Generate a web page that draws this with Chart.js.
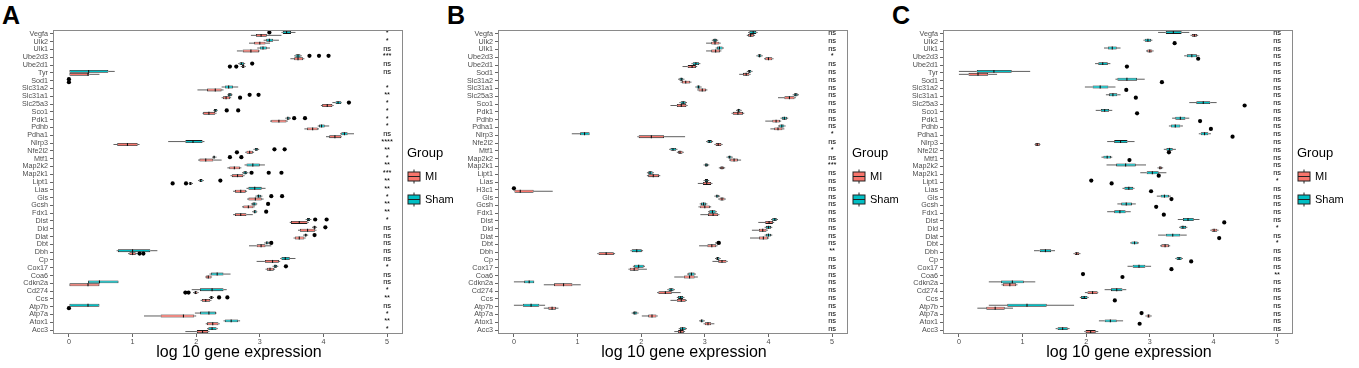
<!DOCTYPE html>
<html><head><meta charset="utf-8">
<script src="https://cdn.jsdelivr.net/npm/chart.js@4/dist/chart.umd.min.js"></script>
<style>
body{margin:0;background:#fff;width:1359px;height:368px;position:relative;overflow:hidden;font-family:"Liberation Sans",Arial,sans-serif}
canvas{position:absolute;top:0}
.lab{position:absolute;top:3px;font-weight:bold;font-size:25px;line-height:25px;color:#000}
</style></head><body>
<div class="lab" style="left:2px">A</div>
<div class="lab" style="left:447px">B</div>
<div class="lab" style="left:892px">C</div>
<canvas id="cA" width="460" height="368" style="left:0px"></canvas>
<canvas id="cB" width="460" height="368" style="left:445px"></canvas>
<canvas id="cC" width="460" height="368" style="left:890px"></canvas>
<script>
// ---------- Panel A ----------
const genesA = ['Vegfa','Ulk2','Ulk1','Ube2d3','Ube2d1','Tyr','Sod1','Slc31a2','Slc31a1','Slc25a3','Sco1','Pdk1','Pdhb','Pdha1','Nlrp3','Nfe2l2','Mtf1','Map2k2','Map2k1','Lipt1','Lias','Gls','Gcsh','Fdx1','Dlst','Dld','Dlat','Dbt','Dbh','Cp','Cox17','Coa6','Cdkn2a','Cd274','Ccs','Atp7b','Atp7a','Atox1','Acc3'];
// [lower whisker, q1, median, q3, upper whisker]
const shamA = [[3.34,3.36,3.42,3.49,3.56],[3.06,3.10,3.15,3.21,3.30],[2.96,3.00,3.05,3.11,3.16],[3.54,3.56,3.60,3.64,3.66],[2.66,2.68,2.71,2.75,2.77],[0,0,0.31,0.62,0.72],[0,0,0,0.02,0.02],[2.40,2.45,2.51,2.58,2.66],[2.49,2.50,2.53,2.56,2.57],[4.14,4.19,4.23,4.28,4.29],[2.27,2.28,2.30,2.33,2.34],[3.40,3.42,3.44,3.47,3.49],[3.91,3.93,3.97,4.02,4.09],[4.26,4.28,4.33,4.38,4.48],[1.56,1.83,1.95,2.10,2.13],[2.90,2.92,2.94,2.97,2.99],[2.25,2.27,2.28,2.30,2.32],[2.76,2.79,2.89,3.00,3.08],[2.72,2.74,2.77,2.80,2.82],[2.03,2.05,2.07,2.10,2.12],[2.79,2.82,2.92,3.03,3.09],[2.93,2.95,2.98,3.02,3.04],[2.86,2.88,2.91,2.95,2.96],[2.88,2.90,2.92,2.95,2.96],[3.72,3.74,3.76,3.79,3.81],[3.82,3.84,3.86,3.88,3.90],[3.68,3.70,3.72,3.74,3.76],[3.07,3.09,3.11,3.14,3.16],[0.75,0.77,1.00,1.28,1.39],[3.32,3.34,3.40,3.47,3.56],[3.20,3.22,3.24,3.27,3.29],[2.21,2.23,2.33,2.43,2.54],[0.30,0.30,0.48,0.78,0.78],[1.93,2.06,2.25,2.43,2.48],[2.20,2.22,2.24,2.26,2.28],[0,0,0.30,0.48,0.48],[1.98,2.06,2.20,2.31,2.32],[2.43,2.45,2.55,2.66,2.69],[2.17,2.19,2.25,2.32,2.34]];
const miA = [[2.86,2.94,3.02,3.11,3.34],[2.83,2.91,3.00,3.09,3.16],[2.64,2.73,2.86,2.99,3.00],[3.48,3.54,3.60,3.68,3.70],[2.70,2.72,2.74,2.76,2.78],[0,0,0.30,0.32,0.48],[0,0,0,0.02,0.02],[2.02,2.17,2.30,2.40,2.43],[2.40,2.42,2.47,2.53,2.55],[3.96,3.98,4.06,4.14,4.16],[2.10,2.11,2.20,2.30,2.32],[3.16,3.18,3.30,3.42,3.44],[3.70,3.74,3.83,3.91,3.93],[4.04,4.09,4.18,4.28,4.29],[0.70,0.76,0.92,1.08,1.11],[2.77,2.79,2.84,2.89,2.91],[2.03,2.05,2.15,2.27,2.40],[2.49,2.52,2.60,2.69,2.71],[2.54,2.56,2.65,2.74,2.76],[1.88,1.89,1.91,1.93,1.95],[2.58,2.61,2.70,2.78,2.80],[2.80,2.82,2.93,3.03,3.06],[2.72,2.74,2.82,2.90,2.92],[2.58,2.61,2.70,2.79,2.89],[3.47,3.49,3.62,3.75,3.77],[3.60,3.63,3.75,3.87,3.89],[3.53,3.55,3.62,3.70,3.72],[2.83,2.95,3.02,3.09,3.18],[0.93,0.95,1.00,1.05,1.08],[2.95,3.08,3.20,3.30,3.32],[3.09,3.11,3.16,3.22,3.24],[2.14,2.15,2.19,2.24,2.25],[0,0,0.30,0.48,0.48],[1.95,1.97,1.99,2.02,2.04],[2.07,2.09,2.15,2.22,2.24],[0,0,0,0.01,0.01],[1.18,1.44,1.80,1.97,2.00],[2.15,2.17,2.26,2.35,2.37],[1.83,2.01,2.10,2.19,2.21]];
const shamOutA = [['Vegfa',3.15],['Ube2d3',3.78],['Ube2d3',3.93],['Ube2d3',4.08],['Ube2d1',2.88],['Sod1',0],['Slc31a1',2.84],['Slc31a1',2.98],['Slc25a3',4.40],['Sco1',2.48],['Sco1',2.66],['Pdk1',3.54],['Pdk1',3.71],['Nfe2l2',3.23],['Nfe2l2',3.39],['Mtf1',2.53],['Mtf1',2.71],['Map2k1',2.87],['Map2k1',3.14],['Map2k1',3.34],['Lipt1',2.38],['Gls',3.18],['Gls',3.35],['Gcsh',3.13],['Fdx1',3.10],['Dlst',3.87],['Dlst',4.05],['Dld',4.03],['Dlat',3.86],['Dbt',3.18],['Cox17',3.41],['Ccs',2.36],['Ccs',2.49]];
const miOutA = [['Ube2d1',2.53],['Ube2d1',2.63],['Sod1',0],['Slc31a1',2.69],['Nfe2l2',2.64],['Lipt1',1.63],['Lipt1',1.84],['Dbh',1.11],['Dbh',1.17],['Cd274',1.83],['Cd274',1.88],['Atp7b',0]];
const sigA = ['*','*','ns','***','ns','ns','','*','**','*','*','*','*','ns','****','**','*','**','***','**','**','*','**','**','*','ns','ns','ns','ns','ns','*','ns','ns','*','**','ns','*','**','*'];

// ---------- Panel B ----------
const genesB = ['Vegfa','Ulk2','Ulk1','Ube2d3','Ube2d1','Sod1','Slc31a2','Slc31a1','Slc25a3','Sco1','Pdk1','Pdhb','Pdha1','Nlrp3','Nfe2l2','Mtf1','Map2k2','Map2k1','Lipt1','Lias','H3c1','Gls','Gcsh','Fdx1','Dlst','Dld','Dlat','Dbt','Dbh','Cp','Cox17','Coa6','Cdkn2a','Cd274','Ccs','Atp7b','Atp7a','Atox1','Acc3'];
const shamB = [[3.68,3.70,3.76,3.81,3.83],[3.11,3.13,3.16,3.19,3.21],[3.17,3.19,3.23,3.28,3.30],[3.81,3.83,3.86,3.89,3.91],[2.79,2.81,2.86,2.91,2.93],[3.66,3.68,3.70,3.73,3.75],[2.58,2.60,2.63,2.66,2.68],[2.85,2.87,2.90,2.93,2.95],[4.38,4.40,4.43,4.46,4.48],[2.60,2.62,2.66,2.70,2.72],[3.49,3.51,3.53,3.56,3.58],[4.19,4.21,4.25,4.29,4.31],[4.15,4.17,4.21,4.25,4.27],[0.91,1.04,1.11,1.19,1.19],[3.02,3.04,3.07,3.11,3.13],[2.44,2.46,2.50,2.55,2.57],[3.34,3.36,3.39,3.42,3.44],[2.98,3.00,3.02,3.05,3.07],[2.09,2.11,2.14,2.18,2.20],[2.98,3.00,3.02,3.05,3.07],[0,0,0,0.02,0.03],[3.15,3.17,3.19,3.22,3.24],[2.92,2.94,2.98,3.02,3.04],[3.05,3.07,3.12,3.17,3.19],[4.04,4.06,4.10,4.13,4.15],[3.94,3.96,4.00,4.04,4.06],[3.94,3.96,4.00,4.04,4.06],[3.16,3.18,3.20,3.22,3.24],[1.83,1.85,1.93,2.01,2.03],[3.16,3.18,3.20,3.23,3.25],[1.87,1.89,1.96,2.04,2.06],[2.72,2.74,2.79,2.84,2.86],[0,0.16,0.24,0.32,0.32],[2.41,2.43,2.47,2.51,2.53],[2.56,2.58,2.62,2.66,2.68],[0,0.14,0.27,0.40,0.49],[1.85,1.87,1.90,1.94,1.96],[2.91,2.93,2.95,2.98,3.00],[2.59,2.61,2.65,2.70,2.72]];
const miB = [[3.66,3.68,3.72,3.77,3.79],[3.02,3.10,3.16,3.23,3.25],[3.02,3.10,3.17,3.24,3.26],[3.93,3.95,4.00,4.06,4.08],[2.65,2.73,2.80,2.86,2.88],[3.54,3.60,3.65,3.70,3.72],[2.62,2.64,2.70,2.77,2.79],[2.88,2.90,2.96,3.02,3.04],[4.15,4.25,4.33,4.41,4.43],[2.46,2.56,2.63,2.71,2.73],[3.42,3.44,3.52,3.60,3.62],[3.95,4.06,4.12,4.18,4.20],[4.03,4.09,4.15,4.22,4.25],[1.94,1.96,2.16,2.36,2.69],[3.15,3.17,3.21,3.26,3.28],[2.56,2.58,2.61,2.65,2.67],[3.38,3.40,3.46,3.52,3.57],[3.22,3.24,3.27,3.30,3.32],[2.09,2.11,2.19,2.28,2.30],[2.89,2.97,3.03,3.10,3.12],[0,0,0.10,0.31,0.61],[3.21,3.23,3.27,3.31,3.33],[2.90,2.92,3.00,3.08,3.10],[2.93,3.05,3.13,3.21,3.23],[3.84,3.95,4.01,4.07,4.09],[3.74,3.85,3.91,3.97,3.99],[3.71,3.85,3.92,3.99,4.01],[2.91,3.04,3.11,3.18,3.20],[1.31,1.33,1.45,1.57,1.59],[3.12,3.21,3.27,3.34,3.36],[1.80,1.82,1.89,1.96,2.09],[2.52,2.67,2.76,2.84,2.89],[0.47,0.63,0.78,0.92,1.05],[2.25,2.27,2.38,2.48,2.62],[2.46,2.56,2.63,2.70,2.72],[0.47,0.54,0.60,0.66,0.70],[2.01,2.11,2.17,2.24,2.26],[2.98,3.00,3.05,3.10,3.15],[2.52,2.58,2.62,2.67,2.69]];
const shamOutB = [['H3c1',0],['Dbt',3.22]];
const miOutB = [];
const sigB = ['ns','ns','ns','*','ns','ns','ns','ns','ns','ns','ns','ns','ns','*','ns','*','ns','***','ns','ns','ns','ns','ns','ns','ns','ns','ns','ns','**','ns','ns','ns','ns','ns','ns','ns','ns','ns','ns'];

// ---------- Panel C ----------
const genesC = ['Vegfa','Ulk2','Ulk1','Ube2d3','Ube2d1','Tyr','Sod1','Slc31a2','Slc31a1','Slc25a3','Sco1','Pdk1','Pdhb','Pdha1','Nlrp3','Nfe2l2','Mtf1','Map2k2','Map2k1','Lipt1','Lias','Gls','Gcsh','Fdx1','Dlst','Dld','Dlat','Dbt','Dbh','Cp','Cox17','Coa6','Cdkn2a','Cd274','Ccs','Atp7b','Atp7a','Atox1','Acc3'];
const shamC = [[3.13,3.25,3.37,3.50,3.62],[2.90,2.92,2.97,3.02,3.04],[2.28,2.34,2.41,2.48,2.54],[3.54,3.58,3.66,3.74,3.78],[2.14,2.19,2.26,2.34,2.38],[0,0.28,0.55,0.83,1.12],[2.46,2.49,2.64,2.80,2.92],[1.98,2.10,2.22,2.35,2.46],[2.31,2.36,2.42,2.49,2.54],[3.62,3.73,3.84,3.95,4.05],[2.15,2.23,2.29,2.36,2.41],[3.35,3.40,3.48,3.56,3.62],[3.30,3.33,3.40,3.48,3.52],[3.77,3.80,3.86,3.92,3.96],[2.33,2.44,2.54,2.65,2.76],[3.22,3.26,3.31,3.36,3.41],[2.24,2.27,2.33,2.39,2.41],[2.32,2.47,2.62,2.78,2.94],[2.85,2.95,3.04,3.14,3.26],[2.08,2.08,2.08,2.08,2.08],[2.57,2.60,2.67,2.74,2.76],[3.11,3.17,3.23,3.30,3.33],[2.49,2.55,2.63,2.72,2.78],[2.33,2.44,2.53,2.62,2.70],[3.44,3.52,3.60,3.69,3.78],[3.46,3.48,3.52,3.57,3.59],[3.13,3.25,3.36,3.48,3.58],[2.69,2.71,2.76,2.81,2.83],[1.18,1.27,1.36,1.45,1.51],[3.40,3.42,3.46,3.50,3.52],[2.65,2.73,2.83,2.93,3.02],[1.95,1.95,1.95,1.95,1.95],[0.47,0.66,0.84,1.02,1.20],[2.29,2.39,2.48,2.57,2.63],[1.90,1.92,1.97,2.02,2.04],[0.47,0.76,1.07,1.38,1.81],[2.87,2.87,2.87,2.87,2.87],[2.20,2.29,2.38,2.48,2.58],[1.52,1.55,1.63,1.71,1.74]];
const miC = [[3.64,3.66,3.70,3.74,3.76],[3.39,3.39,3.39,3.39,3.39],[2.94,2.96,3.00,3.04,3.06],[3.76,3.76,3.76,3.76,3.76],[2.64,2.64,2.64,2.64,2.64],[0,0.15,0.30,0.46,0.60],[3.19,3.19,3.19,3.19,3.19],[2.63,2.63,2.63,2.63,2.63],[2.78,2.78,2.78,2.78,2.78],[4.49,4.49,4.49,4.49,4.49],[2.80,2.80,2.80,2.80,2.80],[3.79,3.79,3.79,3.79,3.79],[3.96,3.96,3.96,3.96,3.96],[4.30,4.30,4.30,4.30,4.30],[1.19,1.20,1.23,1.27,1.28],[3.30,3.30,3.30,3.30,3.30],[2.68,2.68,2.68,2.68,2.68],[3.12,3.14,3.16,3.19,3.21],[3.14,3.14,3.14,3.14,3.14],[2.40,2.40,2.40,2.40,2.40],[3.02,3.02,3.02,3.02,3.02],[3.34,3.34,3.34,3.34,3.34],[3.10,3.10,3.10,3.10,3.10],[3.22,3.22,3.22,3.22,3.22],[4.17,4.17,4.17,4.17,4.17],[3.95,3.97,4.01,4.06,4.08],[4.09,4.09,4.09,4.09,4.09],[3.16,3.18,3.24,3.30,3.32],[1.80,1.82,1.85,1.89,1.91],[3.65,3.65,3.65,3.65,3.65],[3.34,3.34,3.34,3.34,3.34],[2.57,2.57,2.57,2.57,2.57],[0.67,0.69,0.80,0.90,0.92],[1.98,2.02,2.10,2.18,2.19],[2.45,2.45,2.45,2.45,2.45],[0.29,0.43,0.57,0.72,0.85],[2.93,2.95,2.98,3.01,3.03],[2.84,2.84,2.84,2.84,2.84],[1.97,1.99,2.07,2.15,2.19]];
const shamOutC = [['Lipt1',2.08],['Coa6',1.95],['Atp7a',2.87]];
const miOutC = [['Ulk2',3.39],['Ube2d3',3.76],['Ube2d1',2.64],['Sod1',3.19],['Slc31a2',2.63],['Slc31a1',2.78],['Slc25a3',4.49],['Sco1',2.80],['Pdk1',3.79],['Pdhb',3.96],['Pdha1',4.30],['Nfe2l2',3.30],['Mtf1',2.68],['Map2k1',3.14],['Lipt1',2.40],['Lias',3.02],['Gls',3.34],['Gcsh',3.10],['Fdx1',3.22],['Dlst',4.17],['Dlat',4.09],['Cp',3.65],['Cox17',3.34],['Coa6',2.57],['Ccs',2.45],['Atox1',2.84]];
const sigC = ['ns','ns','ns','ns','ns','ns','ns','ns','ns','ns','ns','ns','ns','ns','ns','ns','ns','ns','ns','*','ns','ns','ns','ns','ns','*','ns','*','ns','ns','ns','**','ns','ns','ns','ns','ns','ns','ns'];

const groups = ['MI','Sham'];
const colMI = '#F8766D', colSham = '#00BFC4';
const FONT = '"Liberation Sans", Arial, sans-serif';

function makePlugin(stats, outs, genes, sig){
  return {
    id:'boxplot',
    beforeDatasetsDraw(chart){
      const ctx = chart.ctx, x = chart.scales.x;
      ctx.save(); ctx.strokeStyle='#1a1a1a'; ctx.lineWidth=0.7;
      stats.forEach((st,d)=>{
        const meta = chart.getDatasetMeta(d);
        st.forEach((b,i)=>{
          if (b[0]===b[4]) return;
          const y = meta.data[i].y;
          ctx.beginPath();
          ctx.moveTo(x.getPixelForValue(b[0]),y); ctx.lineTo(x.getPixelForValue(b[1]),y);
          ctx.moveTo(x.getPixelForValue(b[3]),y); ctx.lineTo(x.getPixelForValue(b[4]),y);
          ctx.stroke();
        });
      });
      ctx.restore();
    },
    afterDatasetsDraw(chart){
      const ctx = chart.ctx, x = chart.scales.x, ys = chart.scales.y, ca = chart.chartArea;
      ctx.save();
      // medians
      ctx.strokeStyle='#111'; ctx.lineWidth=1.1;
      stats.forEach((st,d)=>{
        const meta = chart.getDatasetMeta(d);
        st.forEach((b,i)=>{
          if (b[1]===b[3]) return;
          const el = meta.data[i], px = x.getPixelForValue(b[2]);
          ctx.beginPath(); ctx.moveTo(px, el.y-el.height/2); ctx.lineTo(px, el.y+el.height/2); ctx.stroke();
        });
      });
      // outliers
      ctx.fillStyle='#000';
      outs.forEach((list,d)=>{
        const meta = chart.getDatasetMeta(d);
        list.forEach(([g,v])=>{
          const i = genes.indexOf(g); if(i<0) return;
          ctx.beginPath(); ctx.arc(x.getPixelForValue(v), meta.data[i].y, 2.1, 0, Math.PI*2); ctx.fill();
        });
      });
      // significance labels
      ctx.font = '7.5px '+FONT; ctx.textAlign='center'; ctx.textBaseline='middle';
      sig.forEach((s,i)=>{ if(s) ctx.fillText(s, x.getPixelForValue(5), ys.getPixelForValue(i)-1); });
      // frame
      ctx.strokeStyle='#8a8a8a'; ctx.lineWidth=1;
      ctx.strokeRect(ca.left+0.5, ca.top+0.5, ca.right-ca.left-1, ca.bottom-ca.top-1);
      // x title
      ctx.font = '16px '+FONT; ctx.fillStyle='#000';
      ctx.fillText('log 10 gene expression', (ca.left+ca.right)/2+11, 353);
      // legend
      const x0 = ca.right+4;
      ctx.textAlign='left';
      ctx.font='13px '+FONT;
      ctx.fillText('Group', x0, 153);
      [[groups[0],colMI,176.5],[groups[1],colSham,199.5]].forEach(([name,col,yc])=>{
        ctx.strokeStyle='#222'; ctx.lineWidth=1;
        ctx.beginPath(); ctx.moveTo(x0+7, yc-7); ctx.lineTo(x0+7, yc+7); ctx.stroke();
        ctx.fillStyle=col; ctx.fillRect(x0+1, yc-4.5, 12, 9);
        ctx.strokeRect(x0+1, yc-4.5, 12, 9);
        ctx.beginPath(); ctx.moveTo(x0+1, yc); ctx.lineTo(x0+13, yc); ctx.stroke();
        ctx.fillStyle='#000'; ctx.font='11px '+FONT;
        ctx.fillText(name, x0+18, yc);
      });
      ctx.restore();
    }
  };
}

function makeChart(id, genes, sham, mi, shamOut, miOut, sig){
  const tickFont = {size:7.2, family:FONT, lineHeight:1};
  new Chart(document.getElementById(id), {
    type:'bar',
    data:{
      labels: genes,
      datasets:[
        {label:'Sham', data: sham.map(b=>[b[1],b[3]]), backgroundColor:colSham, borderColor:'#1a1a1a', borderWidth:0.8, borderSkipped:false, categoryPercentage:0.75, barPercentage:1},
        {label:'MI', data: mi.map(b=>[b[1],b[3]]), backgroundColor:colMI, borderColor:'#1a1a1a', borderWidth:0.8, borderSkipped:false, categoryPercentage:0.75, barPercentage:1}
      ]
    },
    options:{
      indexAxis:'y', responsive:false, animation:false, devicePixelRatio:1,
      layout:{padding:{top:30, right:57, left:0, bottom:0}},
      plugins:{legend:{display:false}, tooltip:{enabled:false}},
      scales:{
        x:{type:'linear', min:-0.25, max:5.25,
           afterBuildTicks(s){ s.ticks=[0,1,2,3,4,5].map(v=>({value:v})); },
           grid:{display:true, drawOnChartArea:false, tickLength:3, color:'#666'},
           border:{display:false},
           ticks:{color:'#4d4d4d', font:tickFont, padding:1, maxRotation:0, autoSkip:false},
           afterFit(s){ s.height=34; }},
        y:{type:'category', offset:true,
           grid:{display:true, drawOnChartArea:false, offset:false, tickLength:3, color:'#666'},
           border:{display:false},
           ticks:{color:'#4d4d4d', font:tickFont, padding:2, autoSkip:false},
           afterFit(s){ s.width=53; }}
      }
    },
    plugins:[makePlugin([sham, mi], [shamOut, miOut], genes, sig)]
  });
}

makeChart('cA', genesA, shamA, miA, shamOutA, miOutA, sigA);
makeChart('cB', genesB, shamB, miB, shamOutB, miOutB, sigB);
makeChart('cC', genesC, shamC, miC, shamOutC, miOutC, sigC);
</script>
</body></html>
